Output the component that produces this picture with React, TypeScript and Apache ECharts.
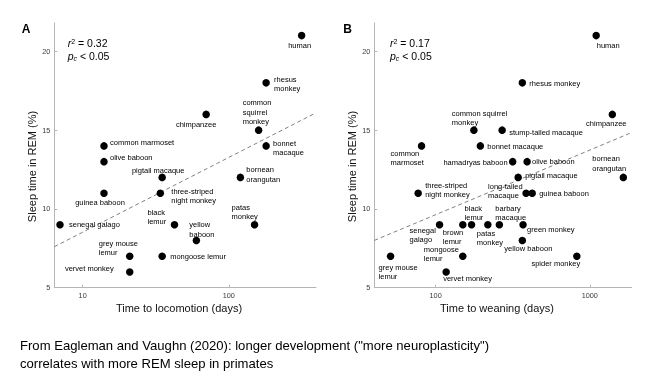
import React, { useEffect, useRef } from 'react';
import * as echarts from 'echarts';

// ---------- data ----------
const remTicks = [5, 10, 15, 20];
const locomotionTicks = [10, 100];
const weaningTicks = [100, 1000];

const speciesA = [
  'human', 'rhesus\nmonkey', 'chimpanzee', 'common\nsquirrel\nmonkey', 'bonnet\nmacaque',
  'common marmoset', 'olive baboon', 'pigtail macaque', 'bornean\norangutan', 'guinea baboon',
  'three-striped\nnight monkey', 'senegal galago', 'black\nlemur', 'yellow\nbaboon', 'patas\nmonkey',
  'grey mouse\nlemur', 'mongoose lemur', 'vervet monkey',
];
const locomotionDays = [315, 180, 70, 160, 180, 14, 14, 35, 120, 14, 34, 7, 42.5, 60, 150, 21, 35, 21];
const remA = [21, 18, 16, 15, 14, 14, 13, 12, 12, 11, 11, 9, 9, 8, 9, 7, 7, 6];
const fitA = [[6.4, 7.6], [395, 16.1]];
const statsA = ['0.32', '0.05'];

const speciesB = [
  'human', 'rhesus monkey', 'chimpanzee', 'common squirrel\nmonkey', 'stump-tailed macaque',
  'bonnet macaque', 'common\nmarmoset', 'hamadryas baboon', 'olive baboon', 'bornean\norangutan',
  'pigtail macaque', 'three-striped\nnight monkey', 'long-tailed\nmacaque', 'guinea baboon',
  'senegal\ngalago', 'brown\nlemur', 'black\nlemur', 'patas\nmonkey', 'barbary\nmacaque',
  'green monkey', 'yellow baboon', 'grey mouse\nlemur', 'mongoose\nlemur', 'spider monkey', 'vervet monkey',
];
const weaningDays = [1100, 365, 1400, 177, 270, 195, 81, 316, 392, 1650, 343, 77, 386, 423, 106, 150, 171, 218, 259, 369, 365, 51, 150, 824, 117];
const remB = [21, 18, 16, 15, 15, 14, 14, 13, 13, 12, 12, 11, 11, 11, 9, 9, 9, 9, 9, 9, 8, 7, 7, 7, 6];
const fitB = [[40, 8.0], [1870, 14.85]];
const statsB = ['0.17', '0.05'];

const captionLines = [
  'From Eagleman and Vaughn (2020): longer development ("more neuroplasticity")',
  'correlates with more REM sleep in primates',
];

// ---------- label placement (style, not data): [dx, dy, align] ----------
type Place = [number, number, 'left' | 'center' | 'right'];
const placeA: Place[] = [
  [-2, 10, 'center'], [8, 1, 'left'], [-10, 10, 'center'], [-16, -18, 'left'], [7, 2, 'left'],
  [6, -3, 'left'], [6, -4, 'left'], [-4, -7, 'center'], [6, -3, 'left'], [-4, 9, 'center'],
  [11, 3, 'left'], [9, 0, 'left'], [-27, -8, 'left'], [-7, -11, 'left'], [-23, -13, 'left'],
  [-31, -8, 'left'], [8, 0, 'left'], [-16, -3, 'right'],
];
const placeB: Place[] = [
  [12, 10, 'center'], [7, 1, 'left'], [-6, 9, 'center'], [-22, -12, 'left'], [7, 2, 'left'],
  [7, 1, 'left'], [-31, 12, 'left'], [-5, 1, 'right'], [5, 0, 'left'], [-31, -14, 'left'],
  [7, -1.5, 'left'], [7, -3, 'left'], [-38, -2, 'left'], [7, 0, 'left'],
  [-30, 10, 'left'], [-20, 12, 'left'], [-7, -12, 'left'], [-11, 13, 'left'], [-4, -12, 'left'],
  [4, 5, 'left'], [6, 8, 'center'], [-12, 16, 'left'], [-39, -2.5, 'left'], [-21, 7, 'center'], [-3, 7, 'left'],
];

const FONT = '"Liberation Sans", Arial, sans-serif';
const LABEL_COLOR = '#000';

function points(names: string[], xs: number[], ys: number[], place: Place[]) {
  return names.map((n, i) => ({
    name: n,
    value: [xs[i], ys[i]],
    label: {
      position: 'inside', offset: [place[i][0], place[i][1]], align: place[i][2], verticalAlign: 'middle',
      color: LABEL_COLOR, textBorderWidth: 0,
    },
  }));
}

function statText(x: number, stats: string[]) {
  const rich = {
    i: { fontStyle: 'italic', fontSize: 10.5, fontFamily: FONT, fill: '#000' },
    sup: { fontSize: 7, fontFamily: FONT, fill: '#000', verticalAlign: 'top', padding: [0, 0, 4, 0] },
    sub: { fontStyle: 'italic', fontSize: 7, fontFamily: FONT, fill: '#000', padding: [4, 0, 0, 0] },
    n: { fontSize: 10.5, fontFamily: FONT, fill: '#000' },
  };
  return [
    { type: 'text', x, y: 43.3, style: { text: `{i|r}{sup|2}{n| = ${stats[0]}}`, rich, verticalAlign: 'middle' } },
    { type: 'text', x, y: 56, style: { text: `{i|p}{sub|c}{n| < ${stats[1]}}`, rich, verticalAlign: 'middle' } },
  ];
}

const plainNumber = (v: number) => String(v);

function xAxisCfg(grid: number, min: number, max: number, ticks: number[]) {
  return {
    type: 'log', gridIndex: grid, min, max, logBase: 10,
    axisLine: { show: true, lineStyle: { color: '#b5b5b5', width: 1 } },
    axisTick: { show: true, inside: true, length: 3, lineStyle: { color: '#b5b5b5' }, customValues: ticks },
    axisLabel: { customValues: ticks, formatter: plainNumber, fontSize: 7.3, color: '#3a3a3a', margin: 4, fontFamily: FONT },
    splitLine: { show: false },
  };
}
function yAxisCfg(grid: number) {
  return {
    type: 'value', gridIndex: grid, min: 5, max: 21.8,
    axisLine: { show: true, lineStyle: { color: '#b5b5b5', width: 1 } },
    axisTick: { show: true, inside: true, length: 3, lineStyle: { color: '#b5b5b5' }, customValues: remTicks },
    axisLabel: { customValues: remTicks, formatter: plainNumber, fontSize: 7.3, color: '#3a3a3a', margin: 4, fontFamily: FONT },
    splitLine: { show: false },
  };
}

export default function App() {
  const ref = useRef<HTMLDivElement>(null);
  useEffect(() => {
    if (!ref.current) return;
    const chart = echarts.init(ref.current, undefined, { renderer: 'svg' });
    const labelBase = { show: true, formatter: (p: any) => p.name, fontSize: 7.5, lineHeight: 9.3, color: LABEL_COLOR, fontFamily: FONT };
    const scatterBase = {
      type: 'scatter', symbolSize: 7.5, itemStyle: { color: '#000', opacity: 1 }, silent: true,
      label: labelBase, emphasis: { disabled: true },
    };
    const lineBase = { type: 'line', symbol: 'none', silent: true, lineStyle: { color: '#808080', width: 1, type: [4, 3] }, z: 1 };
    chart.setOption({
      animation: false,
      backgroundColor: '#ffffff',
      textStyle: { fontFamily: FONT },
      grid: [
        { left: 54.3, top: 23, width: 261.7, height: 264.7 },
        { left: 374.3, top: 23, width: 257.4, height: 264.7 },
      ],
      xAxis: [xAxisCfg(0, 6.4, 395, locomotionTicks), xAxisCfg(1, 40, 1870, weaningTicks)],
      yAxis: [yAxisCfg(0), yAxisCfg(1)],
      series: [
        { ...lineBase, xAxisIndex: 0, yAxisIndex: 0, data: fitA },
        { ...scatterBase, xAxisIndex: 0, yAxisIndex: 0, data: points(speciesA, locomotionDays, remA, placeA) },
        { ...lineBase, xAxisIndex: 1, yAxisIndex: 1, data: fitB },
        { ...scatterBase, xAxisIndex: 1, yAxisIndex: 1, data: points(speciesB, weaningDays, remB, placeB) },
      ],
      graphic: [
        { type: 'text', x: 26.2, y: 28.8, style: { text: 'A', fontSize: 12, fontWeight: 'bold', fontFamily: FONT, fill: '#000', align: 'center', verticalAlign: 'middle' } },
        { type: 'text', x: 347.5, y: 28.8, style: { text: 'B', fontSize: 12, fontWeight: 'bold', fontFamily: FONT, fill: '#000', align: 'center', verticalAlign: 'middle' } },
        ...statText(67.7, statsA),
        ...statText(390, statsB),
        { type: 'text', x: 179, y: 308, style: { text: 'Time to locomotion (days)', fontSize: 11, fontFamily: FONT, fill: '#111', align: 'center', verticalAlign: 'middle' } },
        { type: 'text', x: 497, y: 308, style: { text: 'Time to weaning (days)', fontSize: 11, fontFamily: FONT, fill: '#111', align: 'center', verticalAlign: 'middle' } },
        { type: 'text', x: 31.7, y: 166.5, rotation: Math.PI / 2, style: { text: 'Sleep time in REM (%)', fontSize: 11, fontFamily: FONT, fill: '#111', align: 'center', verticalAlign: 'middle' } },
        { type: 'text', x: 351.7, y: 166.5, rotation: Math.PI / 2, style: { text: 'Sleep time in REM (%)', fontSize: 11, fontFamily: FONT, fill: '#111', align: 'center', verticalAlign: 'middle' } },
        { type: 'text', x: 20, y: 335.8, style: { text: captionLines.join('\n'), fontSize: 13.1, lineHeight: 18.5, fontFamily: FONT, fill: '#000', verticalAlign: 'top' } },
      ],
    });
    return () => chart.dispose();
  }, []);
  return (
    <div
      ref={ref}
      style={{ position: 'absolute', left: 0, top: 0, width: 650, height: 386, background: '#fff', filter: 'grayscale(1)' }}
    />
  );
}
